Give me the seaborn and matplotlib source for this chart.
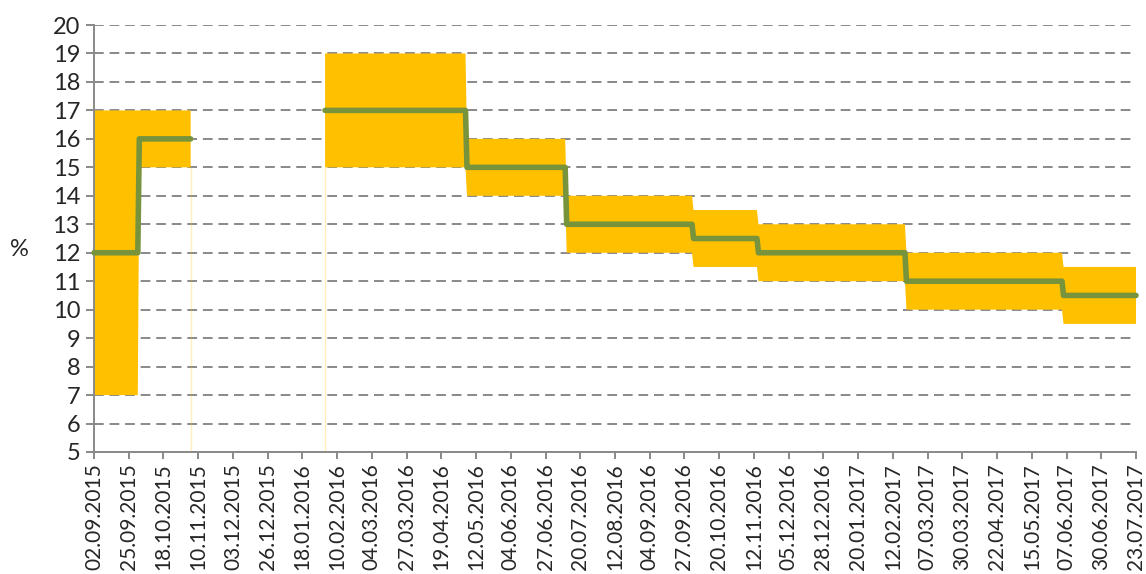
import numpy as np
import pandas as pd
import matplotlib
matplotlib.use('Agg')
import matplotlib.pyplot as plt
import matplotlib.dates as mdates
import seaborn as sns

# corridor segments (start, end, lower, upper, rate)
seg_start = ['2015-09-02', '2015-10-02', '2016-02-02', '2016-05-06', '2016-07-11',
             '2016-10-03', '2016-11-15', '2017-02-21', '2017-06-05']
seg_end = ['2015-10-01', '2015-11-05', '2016-05-05', '2016-07-10', '2016-10-02',
           '2016-11-14', '2017-02-20', '2017-06-04', '2017-07-23']
lower = [7, 15, 15, 14, 12, 11.5, 11, 10, 9.5]
upper = [17, 17, 19, 16, 14, 13.5, 13, 12, 11.5]
rate = [12, 16, 17, 15, 13, 12.5, 12, 11, 10.5]
block = [0, 0, 1, 1, 1, 1, 1, 1, 1]  # data gap between blocks

# x axis ticks every 23 days
tick_start = '2015-09-02'
n_ticks = 31

if __name__ == "__main__":
    sns.set_style('white')
    plt.rcParams['font.family'] = ['Lato', 'DejaVu Sans']

    # daily series
    parts = []
    for s, e, lo, up, r, b in zip(seg_start, seg_end, lower, upper, rate, block):
        d = pd.date_range(s, e, freq='D')
        parts.append(pd.DataFrame({'date': d, 'lower': lo, 'upper': up,
                                   'rate': r, 'block': b}))
    df = pd.concat(parts, ignore_index=True)
    full = pd.DataFrame({'date': pd.date_range(df.date.min(), df.date.max(), freq='D')})
    band = full.merge(df, on='date', how='left')

    fig = plt.figure(figsize=(11.46, 5.74), dpi=100)
    ax = fig.add_axes([94 / 1146, 1 - 452 / 574, (1136 - 94) / 1146, (452 - 25) / 574])

    ax.fill_between(band.date, band.lower, band.upper, color='#FFC000', lw=0, zorder=2)
    # faint edges of the band at the data gap
    gap_x = [pd.Timestamp(seg_end[1]), pd.Timestamp(seg_start[2])]
    ax.vlines(gap_x, 0, [lower[1], lower[2]], color='#FFC000', alpha=0.25, lw=1, zorder=1)

    sns.lineplot(data=df, x='date', y='rate', units='block', estimator=None, ax=ax,
                 color='#77933C', lw=4, solid_capstyle='round', solid_joinstyle='round',
                 zorder=3, clip_on=False)

    ticks = pd.date_range(tick_start, periods=n_ticks, freq='23D')
    ax.set_xticks(ticks)
    ax.xaxis.set_major_formatter(mdates.DateFormatter('%d.%m.%Y'))
    ax.set_xlim(ticks[0], ticks[-1])
    ax.set_ylim(5, 20)
    ax.set_yticks(range(5, 21))

    ax.grid(axis='y', color='#898989', ls=(0, (5, 3)), lw=1.4, zorder=0)
    ax.set_axisbelow(True)
    for sp in ['top', 'right']:
        ax.spines[sp].set_visible(False)
    for sp in ['left', 'bottom']:
        ax.spines[sp].set_color('#898989')
        ax.spines[sp].set_linewidth(1.4)

    ax.tick_params(axis='x', labelrotation=90, labelsize=15, length=5, width=1.4,
                   color='#898989', bottom=True, pad=3)
    ax.tick_params(axis='y', labelsize=17, length=6, width=1.4, color='#898989', left=True, pad=4)
    ax.set_xlabel('')
    ax.set_ylabel('%', rotation=0, fontsize=17, labelpad=14)
    ax.yaxis.set_label_coords(-0.072, 0.45)

    fig.savefig('out.png', dpi=100)
